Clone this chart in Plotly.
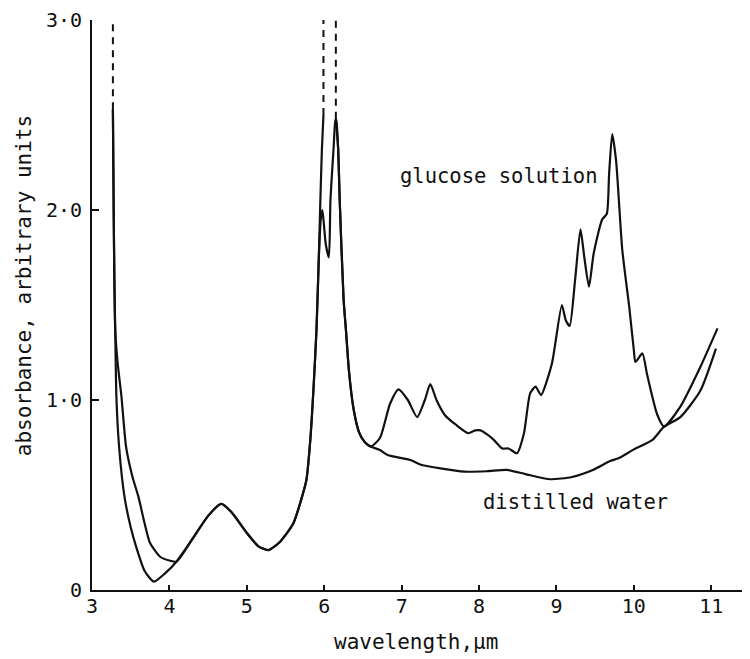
import plotly.graph_objects as go

# ---- data ----
water_x = [3.27, 3.28, 3.29, 3.30, 3.315, 3.35, 3.42, 3.50, 3.57, 3.68, 3.80, 3.95, 4.09,
           4.30, 4.50, 4.67, 4.80, 5.00, 5.15, 5.28, 5.42, 5.60, 5.72, 5.77, 5.82, 5.86,
           5.90, 5.93, 5.95, 5.97, 5.99, None,
           6.15, 6.18, 6.20, 6.25, 6.28, 6.32, 6.38, 6.45, 6.52, 6.60, 6.72, 6.82, 7.11,
           7.26, 7.50, 7.81, 8.10, 8.36, 8.60, 8.92, 9.20, 9.47, 9.70, 9.80, 10.00, 10.24,
           10.39, 10.60, 10.86, 11.06]
water_y = [2.53, 2.00, 1.60, 1.37, 1.02, 0.754, 0.49, 0.33, 0.228, 0.10, 0.044, 0.09, 0.149,
           0.27, 0.39, 0.453, 0.41, 0.30, 0.23, 0.21, 0.25, 0.35, 0.50, 0.58, 0.79, 1.05,
           1.37, 1.75, 2.05, 2.32, 2.50, None,
           2.48, 2.32, 2.05, 1.53, 1.37, 1.15, 0.95, 0.83, 0.78, 0.755, 0.737, 0.71, 0.684,
           0.658, 0.64, 0.623, 0.625, 0.632, 0.61, 0.583, 0.595, 0.632, 0.68, 0.693, 0.74, 0.79,
           0.86, 0.91, 1.05, 1.27]

glucose_x = [3.27, 3.28, 3.29, 3.30, 3.33, 3.38, 3.44, 3.52, 3.60, 3.68, 3.75, 3.88, 4.00, 4.09,
             4.30, 4.50, 4.67, 4.80, 5.00, 5.15, 5.28, 5.42, 5.60, 5.72, 5.77, 5.82, 5.86,
             5.90, 5.93, 5.955, 5.975, 5.99, 6.02, 6.06, 6.08, 6.12, 6.14, 6.15, 6.16, 6.18,
             6.20, 6.25, 6.28, 6.32, 6.38, 6.45, 6.52, 6.60, 6.72, 6.85, 6.96, 7.08, 7.20,
             7.30, 7.37, 7.45, 7.56, 7.70, 7.86, 7.95, 8.02, 8.10, 8.19, 8.30, 8.38, 8.49,
             8.58, 8.66, 8.73, 8.80, 8.94, 9.07, 9.12, 9.17, 9.24, 9.31, 9.36, 9.42, 9.48,
             9.59, 9.65, 9.68, 9.72, 9.77, 9.85, 9.94, 10.00, 10.02, 10.11, 10.17, 10.30,
             10.39, 10.60, 10.86, 11.08]
glucose_y = [2.53, 2.00, 1.60, 1.37, 1.20, 1.02, 0.754, 0.60, 0.49, 0.35, 0.247, 0.175, 0.155, 0.149,
             0.27, 0.39, 0.453, 0.41, 0.30, 0.23, 0.21, 0.25, 0.35, 0.50, 0.58, 0.79, 1.05,
             1.37, 1.75, 1.95, 2.00, 1.95, 1.82, 1.75, 2.05, 2.32, 2.46, 2.48, 2.46, 2.32,
             2.05, 1.53, 1.37, 1.15, 0.95, 0.83, 0.78, 0.755, 0.80, 0.98, 1.056, 1.00, 0.91,
             1.00, 1.084, 1.00, 0.92, 0.87, 0.825, 0.84, 0.84, 0.82, 0.79, 0.745, 0.745, 0.72,
             0.825, 1.035, 1.07, 1.026, 1.19, 1.50, 1.42, 1.39, 1.63, 1.898, 1.75, 1.596, 1.77,
             1.95, 1.98, 2.19, 2.40, 2.26, 1.79, 1.49, 1.26, 1.20, 1.245, 1.135, 0.925,
             0.86, 0.965, 1.175, 1.377]

# off-scale peaks: dashed continuation up to the top of the scale
offscale_x = [3.27, 5.99, 6.15]
offscale_from = [2.53, 2.50, 2.48]
offscale_to = [3.0, 3.0, 3.0]

x_ticks = [3, 4, 5, 6, 7, 8, 9, 10, 11]
x_tick_labels = ["3", "4", "5", "6", "7", "8", "9", "10", "11"]
y_ticks = [0, 1, 2, 3]
y_tick_labels = ["0", "1·0", "2·0", "3·0"]

labels = ["glucose solution", "distilled water"]
label_x = [8.25, 9.25]
label_y = [2.18, 0.465]

FONT = "DejaVu Sans Mono"
INK = "#111111"

fig = go.Figure()
fig.add_trace(go.Scatter(x=water_x, y=water_y, mode="lines", name="distilled water",
                         line=dict(color=INK, width=2.2, shape="spline", smoothing=0.6),
                         connectgaps=False))
fig.add_trace(go.Scatter(x=glucose_x, y=glucose_y, mode="lines", name="glucose solution",
                         line=dict(color=INK, width=2.2, shape="spline", smoothing=0.6)))
for xv, y0, y1 in zip(offscale_x, offscale_from, offscale_to):
    fig.add_trace(go.Scatter(x=[xv, xv], y=[y0, y1], mode="lines", showlegend=False,
                             line=dict(color=INK, width=2, dash="7px,6px")))

for t, xv, yv in zip(labels, label_x, label_y):
    fig.add_annotation(x=xv, y=yv, text=t, showarrow=False, xanchor="center", yanchor="middle",
                       font=dict(family=FONT, size=20.5, color=INK))

fig.add_annotation(xref="paper", yref="paper", x=-0.1033, y=0.533, text="absorbance, arbitrary units",
                   textangle=-90, showarrow=False, xanchor="center", yanchor="middle",
                   font=dict(family=FONT, size=21, color=INK))
fig.add_annotation(xref="paper", yref="paper", x=0.492, y=-0.0907, text="wavelength,µm",
                   showarrow=False, xanchor="center", yanchor="middle",
                   font=dict(family=FONT, size=21, color=INK))

# the page body adds an 8px offset; the figure is sized/margined to compensate
fig.update_layout(
    width=742, height=651,
    margin=dict(l=84, r=0, t=12, b=69),
    paper_bgcolor="white", plot_bgcolor="white",
    showlegend=False,
    font=dict(family=FONT, size=20, color=INK),
)
fig.update_xaxes(range=[3, 11.5], tickvals=x_ticks, ticktext=x_tick_labels,
                 showgrid=False, zeroline=False, showline=True, linecolor=INK, linewidth=2,
                 ticks="inside", ticklen=5, tickwidth=1.5, tickcolor=INK, ticklabelstandoff=-3)
fig.update_yaxes(range=[0, 3], tickvals=y_ticks, ticktext=y_tick_labels,
                 showgrid=False, zeroline=False, showline=True, linecolor=INK, linewidth=2,
                 ticks="inside", ticklen=7, tickwidth=1.5, tickcolor=INK, ticklabelstandoff=4)

fig.write_html("out.html")
